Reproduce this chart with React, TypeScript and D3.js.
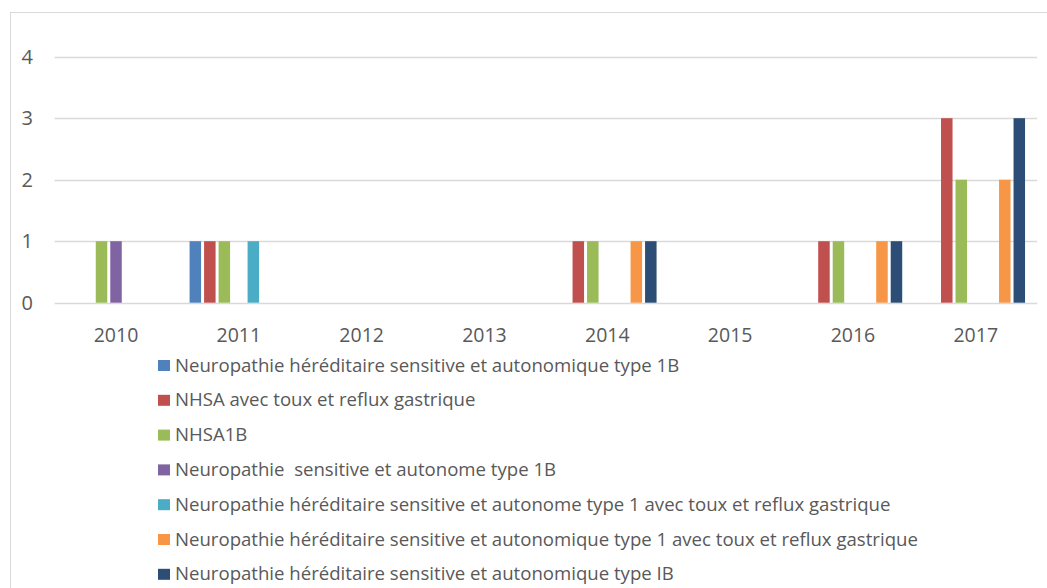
import React from "react";
import * as d3 from "d3";

const years = ["2010", "2011", "2012", "2013", "2014", "2015", "2016", "2017"];
const seriesNames = [
  "Neuropathie héréditaire sensitive et autonomique type 1B",
  "NHSA avec toux et reflux gastrique",
  "NHSA1B",
  "Neuropathie  sensitive et autonome type 1B",
  "Neuropathie héréditaire sensitive et autonome type 1 avec toux et reflux gastrique",
  "Neuropathie héréditaire sensitive et autonomique type 1 avec toux et reflux gastrique",
  "Neuropathie héréditaire sensitive et autonomique type IB",
];
const seriesColors = ["#4F81BD", "#C0504D", "#9BBB59", "#8064A2", "#4BACC6", "#F79646", "#2C4D75"];
const s1B = [0, 1, 0, 0, 0, 0, 0, 0];
const sToux = [0, 1, 0, 0, 1, 0, 1, 3];
const sNHSA1B = [1, 1, 0, 0, 1, 0, 1, 2];
const sAutonome1B = [1, 0, 0, 0, 0, 0, 0, 0];
const sAutonomeToux = [0, 1, 0, 0, 0, 0, 0, 0];
const sAutonomiqueToux = [0, 0, 0, 0, 1, 0, 1, 2];
const sIB = [0, 0, 0, 0, 1, 0, 1, 3];
const seriesValues = [s1B, sToux, sNHSA1B, sAutonome1B, sAutonomeToux, sAutonomiqueToux, sIB];
const yTicks = [0, 1, 2, 3, 4];

export default function App() {
  const W = 1047, H = 588;
  const left = 54.6, right = 1037.2, top = 56.7, bottom = 302.7;
  const font = "'Open Sans', 'Noto Sans', sans-serif";
  const textColor = "#595959";

  const x0 = d3.scaleBand<string>().domain(years).range([left, right])
    .paddingInner(0.1735).paddingOuter(0.1735 / 2);
  const x1 = d3.scaleBand<number>().domain(d3.range(seriesNames.length))
    .range([0, x0.bandwidth()]).paddingInner(0.207).paddingOuter(0.1035);
  const y = d3.scaleLinear().domain([0, 4]).range([bottom, top]);

  return (
    <svg width={W} height={H} style={{ position: "absolute", left: 0, top: 0, background: "#fff" }}
      fontFamily={font}>
      <rect x={10.5} y={12.5} width={1045} height={600} fill="#fff" stroke="#D9D9D9" strokeWidth={1} />
      {yTicks.map((t) => (
        <g key={t}>
          <line x1={left} x2={right} y1={Math.round(y(t)) + 0.5} y2={Math.round(y(t)) + 0.5}
            stroke="#D9D9D9" strokeWidth={1.5} />
          <text x={33} y={y(t) + 7} textAnchor="end" fontSize={20} fill={textColor}>{t}</text>
        </g>
      ))}
      {years.map((yr, i) => (
        <g key={yr}>
          {seriesValues.map((vals, s) => vals[i] > 0 ? (
            <rect key={s} x={(x0(yr) ?? 0) + (x1(s) ?? 0)} y={y(vals[i])}
              width={x1.bandwidth()} height={y(0) - y(vals[i])} fill={seriesColors[s]} />
          ) : null)}
          <text x={(x0(yr) ?? 0) + x0.bandwidth() / 2} y={342} textAnchor="middle"
            fontSize={19.5} fill={textColor}>{yr}</text>
        </g>
      ))}
      {seriesNames.map((name, s) => (
        <g key={s} transform={`translate(158, ${360 + s * 34.8})`}>
          <rect x={0} y={0} width={12} height={11} fill={seriesColors[s]} />
          <text x={17} y={11.5} fontSize={18.6} fill={textColor} style={{ whiteSpace: "pre" }}>{name}</text>
        </g>
      ))}
    </svg>
  );
}
